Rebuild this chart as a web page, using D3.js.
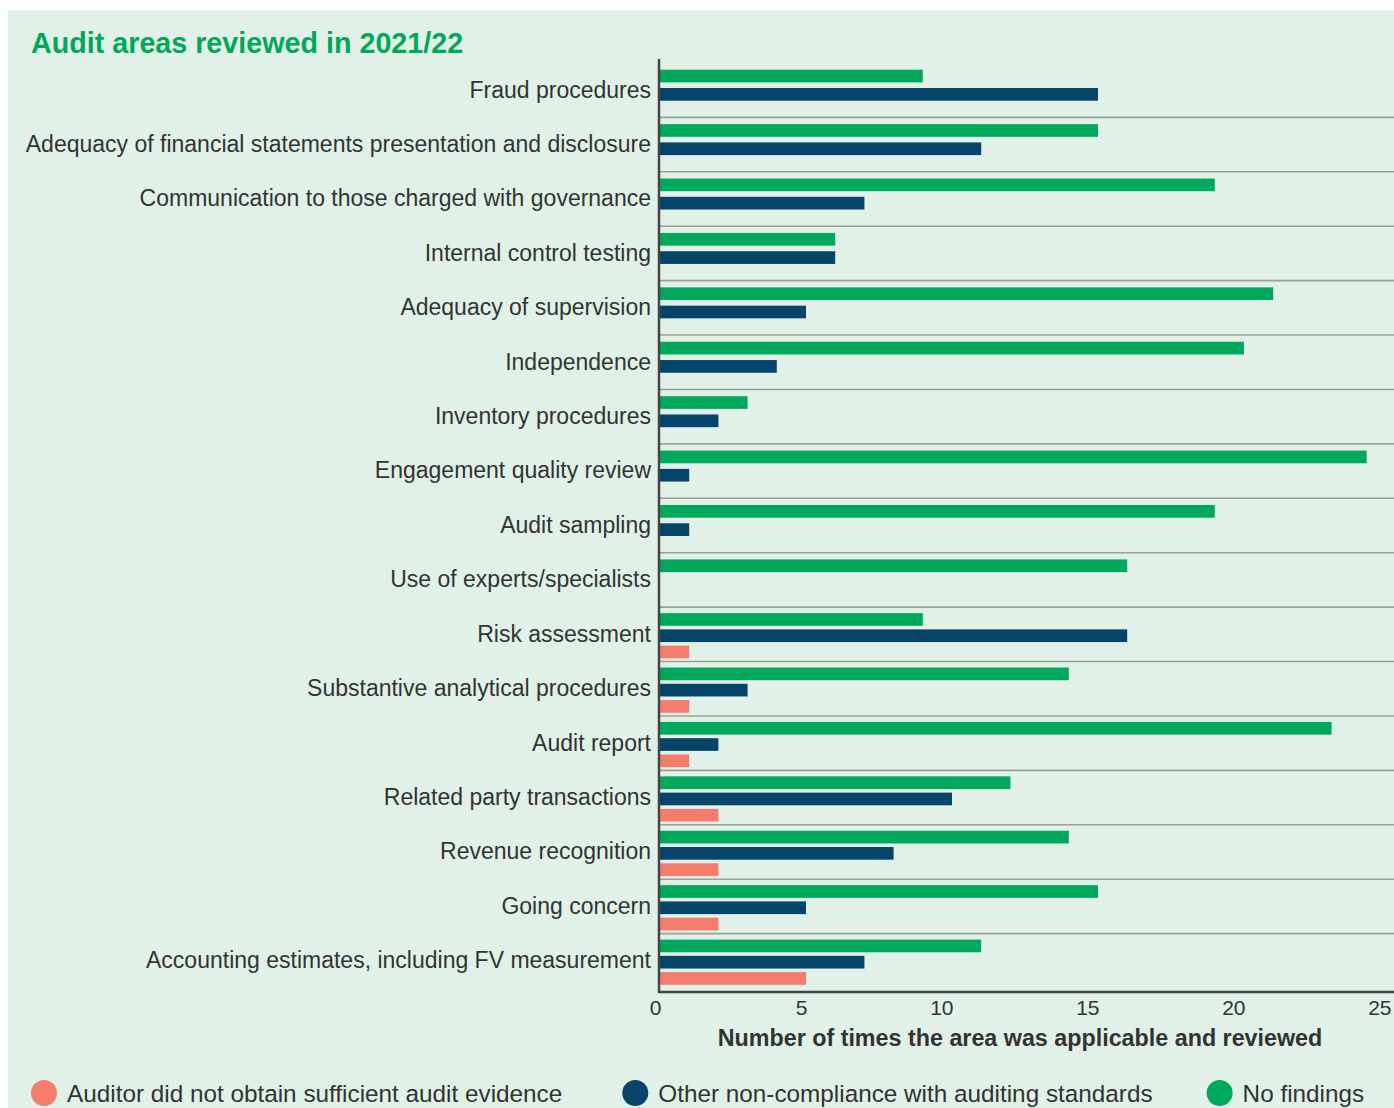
<!DOCTYPE html>
<html>
<head>
<meta charset="utf-8">
<script src="https://cdn.jsdelivr.net/npm/d3@7"></script>
<style>
  html, body { margin: 0; padding: 0; background: #ffffff; }
  #chart { width: 1394px; height: 1108px; }
  svg { display: block; }
</style>
</head>
<body>
<div id="chart"></div>
<script>
const categories = [
  'Fraud procedures',
  'Adequacy of financial statements presentation and disclosure',
  'Communication to those charged with governance',
  'Internal control testing',
  'Adequacy of supervision',
  'Independence',
  'Inventory procedures',
  'Engagement quality review',
  'Audit sampling',
  'Use of experts/specialists',
  'Risk assessment',
  'Substantive analytical procedures',
  'Audit report',
  'Related party transactions',
  'Revenue recognition',
  'Going concern',
  'Accounting estimates, including FV measurement'
];

const noFindings          = [9, 15, 19, 6, 21, 20, 3, 24.2, 19, 16, 9, 14, 23, 12, 14, 15, 11];
const otherNonCompliance  = [15, 11, 7, 6, 5, 4, 2, 1, 1, 0, 16, 3, 2, 10, 8, 5, 7];
const insufficientEvidence = [0, 0, 0, 0, 0, 0, 0, 0, 0, 0, 1, 1, 1, 2, 2, 2, 5];

const seriesKeys   = ['green', 'navy', 'red'];
const seriesLabels = {
  red: 'Auditor did not obtain sufficient audit evidence',
  navy: 'Other non-compliance with auditing standards',
  green: 'No findings'
};
const legendOrder = ['red', 'navy', 'green'];
const xTicks = [0, 5, 10, 15, 20, 25];
const xTitle = 'Number of times the area was applicable and reviewed';
const chartTitle = 'Audit areas reviewed in 2021/22';

const COLORS = { green: '#00a95c', navy: '#06446a', red: '#f47c6c' };
const FONT = '"Liberation Sans", Arial, sans-serif';
const TEXT = '#333333';

const totalW = 1394, totalH = 1108;

const svg = d3.select('#chart')
  .append('svg')
  .attr('width', totalW)
  .attr('height', totalH);

// panel background
svg.append('rect')
  .attr('x', 8).attr('y', 10)
  .attr('width', totalW - 8).attr('height', totalH - 10)
  .attr('fill', '#e1f1e7');

svg.append('text')
  .attr('x', 31).attr('y', 53)
  .attr('fill', '#00a859')
  .attr('font-family', FONT)
  .attr('font-weight', 700)
  .attr('font-size', 28.7)
  .text(chartTitle);

// scales
const x = d3.scaleLinear().domain([0, 25]).range([660, 1390]);
const y = d3.scaleBand().domain(categories).range([63, 988]);
const axisY = 992;

// three-bar rows are packed tighter than two-bar rows
const inner3 = d3.scaleBand().domain(seriesKeys).range([6, 51.2]).paddingInner(0.22);
const inner2 = d3.scaleBand().domain(['green', 'navy']).range([6.7, 37.7]).paddingInner(0.306);

const rows = categories.map((c, i) => ({
  category: c,
  values: { green: noFindings[i], navy: otherNonCompliance[i], red: insufficientEvidence[i] },
  three: insufficientEvidence[i] > 0
}));

// row separators
svg.append('g')
  .selectAll('line')
  .data(categories.slice(1))
  .join('line')
  .attr('x1', x(0)).attr('x2', totalW)
  .attr('y1', d => y(d)).attr('y2', d => y(d))
  .attr('stroke', '#9aa09d')
  .attr('stroke-width', 1.6);

// bars
const rowG = svg.append('g')
  .selectAll('g')
  .data(rows)
  .join('g')
  .attr('transform', d => `translate(0,${y(d.category)})`);

rowG.selectAll('rect')
  .data(d => (d.three ? seriesKeys : ['green', 'navy']).map(k => ({ key: k, value: d.values[k], scale: d.three ? inner3 : inner2 })))
  .join('rect')
  .attr('x', x(0))
  .attr('y', d => d.scale(d.key))
  .attr('width', d => x(d.value) - x(0))
  .attr('height', d => d.scale.bandwidth())
  .attr('fill', d => COLORS[d.key]);

// y labels
svg.append('g')
  .attr('transform', `translate(${x(0)},0)`)
  .call(d3.axisLeft(y).tickSize(0).tickPadding(9))
  .call(g => g.select('.domain').remove())
  .call(g => g.selectAll('text')
    .attr('fill', TEXT)
    .attr('font-family', FONT)
    .attr('font-size', 23));

// x axis
svg.append('g')
  .attr('transform', `translate(0,${axisY})`)
  .call(d3.axisBottom(x).tickValues(xTicks).tickSize(0).tickSizeOuter(0).tickPadding(8))
  .call(g => g.select('.domain').attr('stroke', '#454545').attr('stroke-width', 2.5)
    .attr('d', `M${x(0) - 2},0H${totalW}`))
  .call(g => g.selectAll('text')
    .attr('fill', TEXT)
    .attr('font-family', FONT)
    .attr('font-size', 21)
    .attr('text-anchor', 'end')
    .attr('dx', 1));

// vertical axis line
svg.append('line')
  .attr('x1', x(0) - 1).attr('x2', x(0) - 1)
  .attr('y1', 59).attr('y2', axisY + 1)
  .attr('stroke', '#454545')
  .attr('stroke-width', 2.5);

svg.append('text')
  .attr('x', 1020).attr('y', 1046)
  .attr('text-anchor', 'middle')
  .attr('fill', TEXT)
  .attr('font-family', FONT)
  .attr('font-weight', 700)
  .attr('font-size', 23.3)
  .text(xTitle);

// legend
const legend = svg.append('g').attr('transform', 'translate(0,1093)');
const legendGaps = [73, 67];
let cx = 44;
legendOrder.forEach((k, i) => {
  legend.append('circle')
    .attr('cx', cx).attr('cy', 0).attr('r', 13)
    .attr('fill', COLORS[k]);
  const t = legend.append('text')
    .attr('x', cx + 23).attr('y', 8.5)
    .attr('fill', TEXT)
    .attr('font-family', FONT)
    .attr('font-size', 24.3)
    .text(seriesLabels[k]);
  cx = cx + 23 + t.node().getComputedTextLength() + (legendGaps[i] || 0);
});
</script>
</body>
</html>
